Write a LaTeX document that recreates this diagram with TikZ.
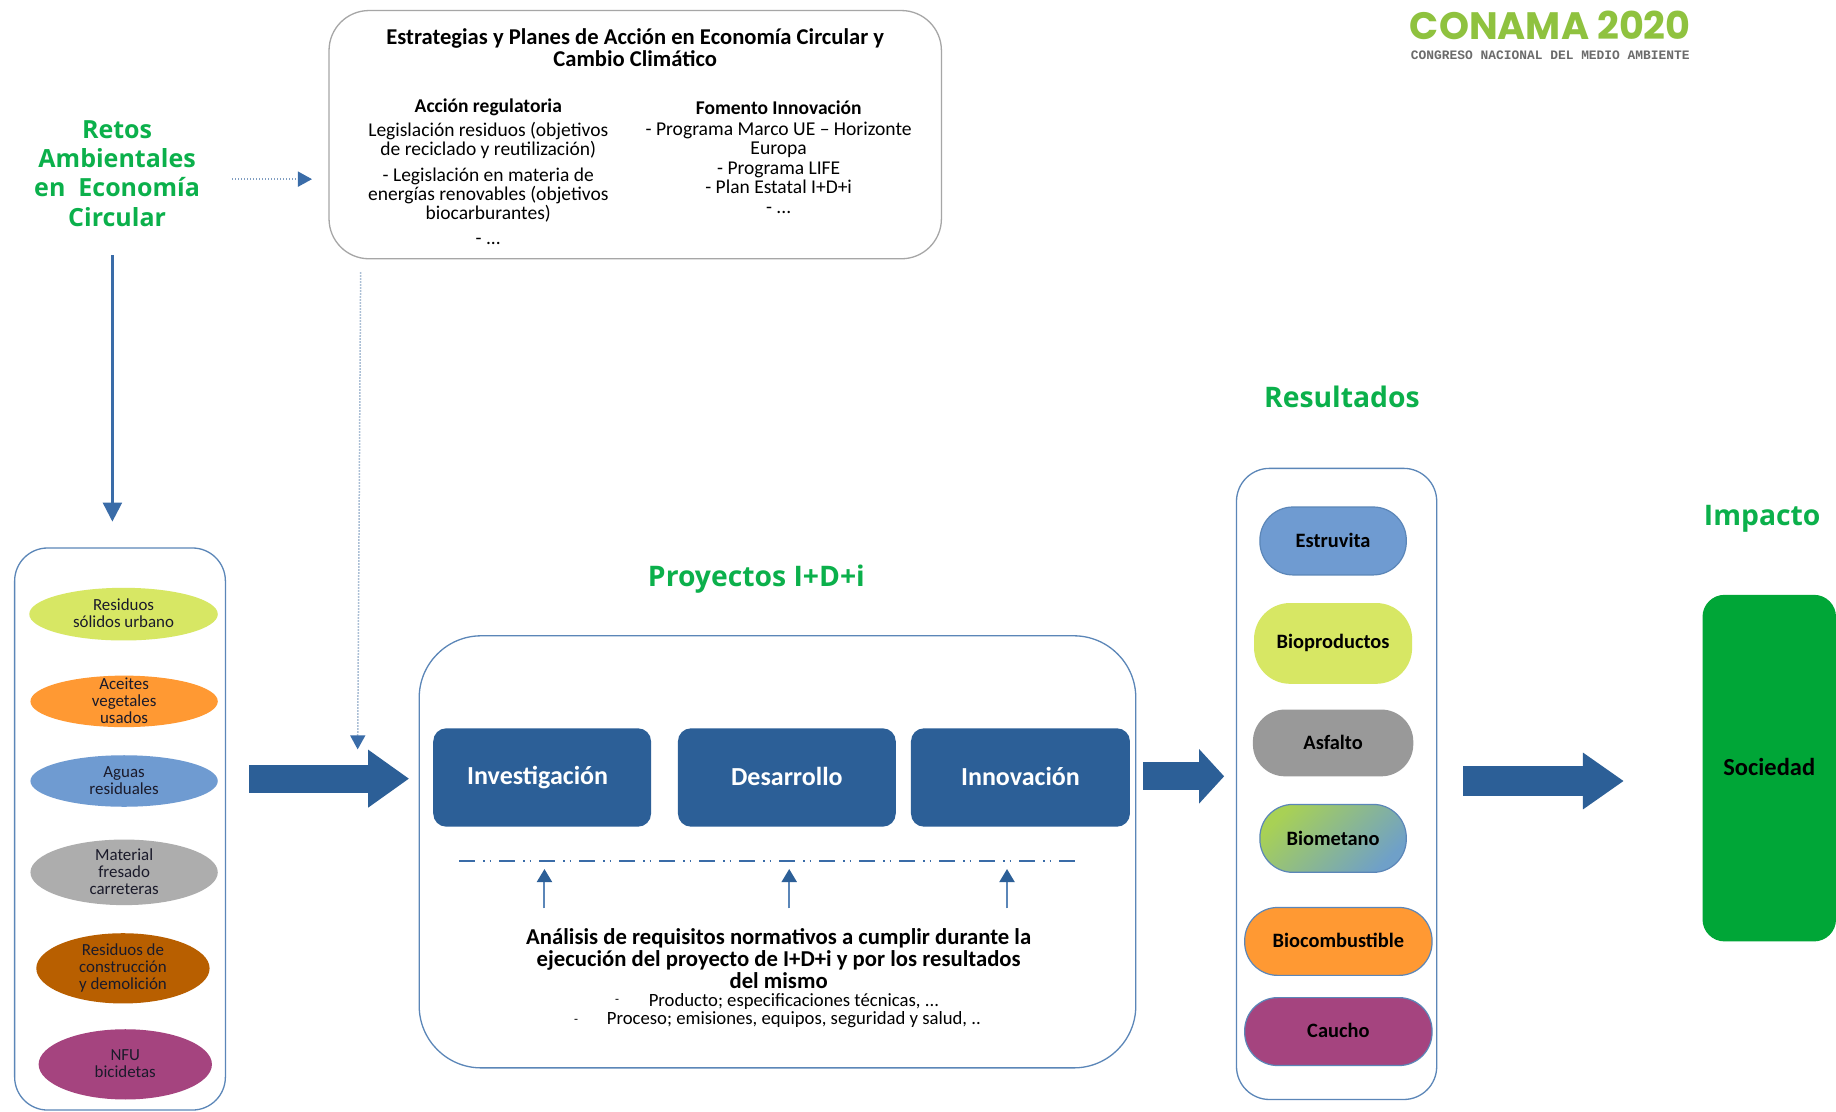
\documentclass[tikz,border=0pt]{standalone}
\usepackage{fontspec}
\setmainfont{Carlito}
\newfontfamily\headfont{Open Sans}
\newfontfamily\logofont{Poppins}
\newfontfamily\logosub{Liberation Mono}
\usetikzlibrary{shapes.geometric,arrows.meta,calc}
\definecolor{bluedark}{HTML}{2C5F97}
\definecolor{bluemid}{HTML}{3A6CA8}
\definecolor{blueline}{HTML}{5B86B8}
\definecolor{dotblue}{HTML}{7F9DC0}
\definecolor{greenhead}{HTML}{0BB04B}
\definecolor{lime}{HTML}{D7E764}
\definecolor{biostart}{HTML}{A8D155}
\definecolor{bioend}{HTML}{6FA0C8}
\definecolor{orangeb}{HTML}{FF9933}
\definecolor{blueb}{HTML}{6F9BD1}
\definecolor{grayb}{HTML}{ADADAD}
\definecolor{grayc}{HTML}{999999}
\definecolor{brownb}{HTML}{B85F00}
\definecolor{purpleb}{HTML}{A5447F}
\definecolor{greenbox}{HTML}{00A637}
\definecolor{logogreen}{HTML}{8FC23F}
\definecolor{inkd}{HTML}{1A1A2A}
\newcommand{\fs}[2]{\fontsize{#1}{#2}\selectfont}
% style, name, x1, y1, x2, y2, text (coordinates in units of the 1568-wide view)
\newcommand{\bx}[7]{\node[#1,inner sep=0pt,align=center,
  minimum width={(#5-#3)*1.1709pt},minimum height={(#6-#4)*1.1709pt}]
  (#2) at ({(#3+#5)/2},{(#4+#6)/2}) {#7};}
% ellipse whose text may overflow it: fill, name, x1, y1, x2, y2, text
\newcommand{\ov}[7]{\node[ellipse,fill=#1,inner sep=0pt,
  minimum width={(#5-#3)*1.1709pt},minimum height={(#6-#4)*1.1709pt}]
  (#2) at ({(#3+#5)/2},{(#4+#6)/2}) {};
  \node[ovaltext] (#2t) at ([yshift=0.8pt]#2.center) {#7};}
\tikzset{
  x=1.1709pt,y=-1.1709pt,
  frame/.style={draw=blueline,line width=1.3pt,fill=white,rectangle},
  ovaltext/.style={inner sep=0pt,align=center,text=inkd,font=\fs{16.9}{17}},
  pill/.style={rectangle,text=black,font=\bfseries\fs{20.4}{22}},
  stage/.style={rectangle,draw=none,fill=bluedark,rounded corners=13pt,text=white,font=\bfseries\fs{26}{28}},
  head/.style={text=greenhead,font=\headfont\bfseries\fs{25}{29.3}},
  headb/.style={head,inner sep=0pt,font=\headfont\bfseries\fs{28.3}{30}},
  txt/.style={inner sep=0pt,align=center,text=black},
  blockarrow/.style={draw=bluedark,line width=#1},
  thinarrow/.style={draw=bluemid,line width=2.4pt,-{Triangle[length=19pt,width=19pt,color=bluemid]}},
  smallarrow/.style={draw=blueline,line width=2pt,-{Triangle[length=13pt,width=15pt,color=bluedark]}},
  dotarrow/.style={draw=dotblue,line width=1.5pt,dash pattern=on 1.4pt off 1.6pt,-{Triangle[length=14pt,width=15pt,color=bluemid]}},
}
\begin{document}
\begin{tikzpicture}
\useasboundingbox (0,0) rectangle (1568,948.84);
\fill[white] (0,0) rectangle (1568,948.84);

% logo
\node[txt,text=logogreen,font=\logofont\bfseries\fs{38.2}{40}] (logo) at (1324,21.5) {CONAMA 2020};
\node[txt,text=black!58,font=\logosub\bfseries\fs{12.9}{14}] (logosub) at (1324,47) {CONGRESO NACIONAL DEL MEDIO AMBIENTE};

% headers
\bx{head}{retos}{28}{98}{172}{198}{Retos\\Ambientales\\en\ \ Economía\\Circular}
\node[headb] (hproy) at (646,495) {Proyectos I+D+i};
\node[headb] (hres) at (1146,339) {Resultados};
\node[headb] (himp) at (1505,443) {Impacto};

% top box
\bx{frame,draw=black!35,rounded corners=40pt}{top}{281}{9}{804}{221}{}
\node[txt,font=\bfseries\fs{22.6}{22.3}] (toptitle) at (542.5,41) {Estrategias y Planes de Acción en Economía Circular y\\Cambio Climático};
\node[txt,font=\bfseries\fs{19.5}{19}] (accion) at (417,91.5) {Acción regulatoria};
\node[txt,font=\fs{19.5}{19.3}] (acc1) at (417,120) {Legislación residuos (objetivos\\de reciclado y reutilización)};
\node[txt,font=\fs{19.5}{19}] (acc2) at (417,166.5) {- Legislación en materia de\\energías renovables (objetivos\\biocarburantes)};
\node[txt,font=\fs{19.5}{19}] (acc3) at (417,206) {- ...};
\node[txt,font=\bfseries\fs{19.5}{19}] (fomento) at (665,92) {Fomento Innovación};
\node[txt,font=\fs{19.6}{19.3}] (fom1) at (665,119.5) {- Programa Marco UE – Horizonte\\Europa};
\node[txt,font=\fs{19.5}{19}] (fom2) at (665,152) {- Programa LIFE\\- Plan Estatal I+D+i};
\node[txt,font=\fs{19.5}{19}] (fom3) at (665,180) {- ...};

% left box
\bx{frame,rounded corners=33pt}{left}{12.5}{468}{192.5}{948}{}
\ov{lime}{e1}{25}{502}{186}{547}{Residuos\\sólidos urbano}
\ov{orangeb}{e2}{26}{577}{186}{621}{Aceites\\vegetales\\usados}
\ov{blueb}{e3}{26}{645}{186}{689}{Aguas\\residuales}
\ov{grayb}{e4}{26}{717}{186}{773}{Material\\fresado\\carreteras}
\ov{brownb}{e5}{31}{797}{179}{857}{Residuos de\\construcción\\y demolición}
\ov{purpleb}{e6}{33}{879}{181}{939}{NFU\\bicidetas}

% central box
\bx{frame,rounded corners=62pt}{big}{358}{543}{970}{912}{}
\bx{stage}{inv}{370}{622}{556}{706}{\raisebox{-2pt}{Investigación}\kern 9pt}
\bx{stage}{des}{579}{622}{765}{706}{\raisebox{1.5pt}{Desarrollo}}
\bx{stage}{inn}{778}{622}{965}{706}{\raisebox{1.5pt}{Innovación}}
\coordinate (dashl) at (392,735);
\coordinate (dashr) at (921,735);
\draw[bluemid,line width=1.8pt,dash pattern=on 16pt off 8pt on 1.5pt off 5pt on 1.5pt off 8pt] (dashl) -- (dashr);
\bx{txt,font=\bfseries\fs{22.7}{22.3}}{ana}{440}{790}{890}{847}{Análisis de requisitos normativos a cumplir durante la\\ejecución del proyecto de I+D+i y por los resultados\\del mismo}
\node[txt,font=\fs{18.7}{18}] (ana1) at (678,855) {Producto; especificaciones técnicas, ...};
\node[txt,font=\fs{18.7}{18}] (ana2) at (678,871) {Proceso; emisiones, equipos, seguridad y salud, ..};
\node[txt,font=\fs{13}{14}] (bul1) at (527,855.5) {-};
\node[txt,font=\fs{13}{14}] (bul2) at (492,872.5) {-};

% results box
\bx{frame,rounded corners=33pt}{res}{1056}{400}{1227}{939}{}
\bx{pill,fill=blueb,draw=blueline,line width=1.2pt,rounded corners=33pt}{p1}{1076}{433}{1201}{491}{\raisebox{1pt}{Estruvita}}
\bx{pill,fill=lime,rounded corners=36pt}{p2}{1071}{515}{1206}{584}{\raisebox{1pt}{Bioproductos}}
\bx{pill,fill=grayc,rounded corners=32pt}{p3}{1070}{606}{1207}{663}{\raisebox{1pt}{Asfalto}}
\bx{pill,draw=blueline,line width=1.2pt,rounded corners=33pt,top color=biostart,bottom color=bioend,shading angle=45}{p4}{1076}{687}{1201}{745}{\raisebox{1pt}{Biometano}}
\bx{pill,fill=orangeb,draw=blueline,line width=1.2pt,rounded corners=33pt}{p5}{1063}{775}{1223}{833}{\raisebox{1.5pt}{Biocombustible}}
\bx{pill,fill=purpleb,draw=blueline,line width=1.2pt,rounded corners=33pt}{p6}{1063}{852}{1223}{910}{\raisebox{1.5pt}{Caucho}}

% society
\bx{rectangle,fill=greenbox,rounded corners=22pt,text=black,font=\bfseries\fs{24.5}{26}}{soc}{1454}{508}{1568}{804}{\raisebox{2pt}{Sociedad}}

% connectors
\draw[thinarrow] ([shift={(-4,20)}]retos.south) -- ([shift={(-6.5,-22)}]left.north);
\draw[dotarrow] ([shift={(26,5)}]retos.east) -- ([shift={(-14,38)}]top.west);
\draw[dotarrow] ([shift={(-234.5,11)}]top.south) -- ([shift={(-52,-87.5)}]big.west);
\draw[blockarrow=28pt,-{Triangle[length=41pt,width=55pt,color=bluedark]}] ([shift={(20,-43)}]left.east) -- ([shift={(-8,-62.5)}]big.west);
\draw[blockarrow=28pt,-{Triangle[length=25pt,width=53pt,color=bluedark]}] ([shift={(6,-64.5)}]big.east) -- ([shift={(-10,-6.5)}]res.west);
\draw[blockarrow=30pt,-{Triangle[length=41pt,width=54pt,color=bluedark]}] ([shift={(22,-2.5)}]res.east) -- ([shift={(-67,11)}]soc.west);
\draw[smallarrow] ([shift={(-200,-14)}]ana.north) -- ([shift={(2,36)}]inv.south);
\draw[smallarrow] ([shift={(9,-14)}]ana.north) -- ([shift={(2,36)}]des.south);
\draw[smallarrow] ([shift={(195,-14)}]ana.north) -- ([shift={(-11.5,36)}]inn.south);
\end{tikzpicture}
\end{document}
